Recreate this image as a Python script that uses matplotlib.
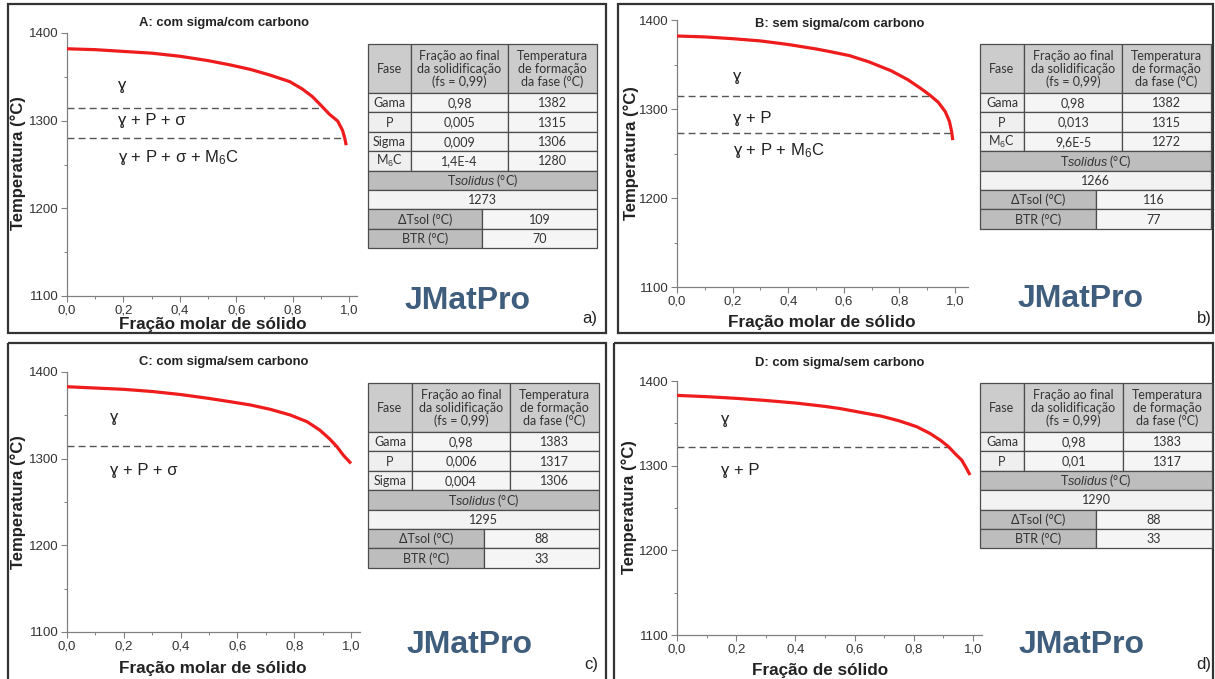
import matplotlib.pyplot as plt
from matplotlib.patches import Rectangle
from matplotlib.ticker import MultipleLocator, FuncFormatter

plt.rcParams['font.family'] = ['Liberation Sans', 'DejaVu Sans']
plt.rcParams['mathtext.fontset'] = 'custom'
plt.rcParams['mathtext.rm'] = 'Liberation Sans'
plt.rcParams['mathtext.it'] = 'Liberation Sans:italic'

# ---- curve data ----
fs_a = [0.0, 0.1, 0.2, 0.3, 0.4, 0.5, 0.58, 0.65, 0.72, 0.79, 0.835, 0.87, 0.905, 0.93, 0.96, 0.977, 0.985, 0.99]
temp_a = [1382, 1381, 1379, 1377, 1373.5, 1368.5, 1363.5, 1358.5, 1352, 1344.5, 1336, 1327.5, 1316, 1307.5, 1299.5, 1289, 1280, 1272]

fs_b = [0.0, 0.1, 0.2, 0.3, 0.4, 0.5, 0.55, 0.62, 0.69, 0.77, 0.83, 0.875, 0.91, 0.94, 0.965, 0.98, 0.988, 0.992]
temp_b = [1382, 1381, 1379, 1376.5, 1372.5, 1367.5, 1364.5, 1360, 1353, 1343, 1333, 1323.5, 1315.5, 1307.5, 1297, 1286, 1274.5, 1265]

fs_c = [0.0, 0.1, 0.2, 0.3, 0.4, 0.5, 0.575, 0.645, 0.715, 0.785, 0.845, 0.89, 0.925, 0.95, 0.973, 1.0]
temp_c = [1383, 1381.5, 1380, 1377.5, 1374, 1369.5, 1365.7, 1362, 1357, 1350.5, 1342.7, 1333, 1322.7, 1314, 1304, 1294.5]

fs_d = [0.0, 0.1, 0.2, 0.3, 0.4, 0.5, 0.55, 0.62, 0.69, 0.75, 0.81, 0.855, 0.89, 0.917, 0.94, 0.962, 0.976, 0.99]
temp_d = [1383, 1381.5, 1379.5, 1377, 1374, 1370, 1367.5, 1363, 1358.5, 1353, 1346, 1338, 1330, 1322.5, 1314, 1306.5, 1298, 1289]

# dashed phase boundaries: (temperature, fs where it meets the curve)
bounds_a = [(1314.5, 0.91), (1280, 0.985)]
bounds_b = [(1314.5, 0.917), (1273.5, 0.985)]
bounds_c = [(1314.5, 0.945)]
bounds_d = [(1322.5, 0.917)]

# phase field labels: (text, fs, temperature)
fields_a = [('ɣ', 0.18, 1340), ('ɣ + P + σ', 0.18, 1300), ('ɣ + P + σ + M$_6$C', 0.18, 1258)]
fields_b = [('ɣ', 0.2, 1336), ('ɣ + P', 0.2, 1289), ('ɣ + P + M$_6$C', 0.2, 1253)]
fields_c = [('ɣ', 0.15, 1347), ('ɣ + P + σ', 0.15, 1286)]
fields_d = [('ɣ', 0.15, 1355), ('ɣ + P', 0.15, 1294)]

titles = ['A: com sigma/com carbono', 'B: sem sigma/com carbono',
          'C: com sigma/sem carbono', 'D: com sigma/sem carbono']
xlabels = ['Fração molar de sólido', 'Fração molar de sólido',
           'Fração molar de sólido', 'Fração de sólido']
ylabel = 'Temperatura (°C)'
letters = ['a)', 'b)', 'c)', 'd)']

# ---- table data ----
table_header = ['Fase', 'Fração ao final\nda solidificação\n(fs = 0,99)', 'Temperatura\nde formação\nda fase (°C)']
phases_a = ['Gama', 'P', 'Sigma', 'M$_6$C']
frac_a = ['0,98', '0,005', '0,009', '1,4E-4']
tform_a = ['1382', '1315', '1306', '1280']
tsol_a, dtsol_a, btr_a = 1273, 109, 70

phases_b = ['Gama', 'P', 'M$_6$C']
frac_b = ['0,98', '0,013', '9,6E-5']
tform_b = ['1382', '1315', '1272']
tsol_b, dtsol_b, btr_b = 1266, 116, 77

phases_c = ['Gama', 'P', 'Sigma']
frac_c = ['0,98', '0,006', '0,004']
tform_c = ['1383', '1317', '1306']
tsol_c, dtsol_c, btr_c = 1295, 88, 33

phases_d = ['Gama', 'P']
frac_d = ['0,98', '0,01']
tform_d = ['1383', '1317']
tsol_d, dtsol_d, btr_d = 1290, 88, 33

W, H = 1215, 679
fig = plt.figure(figsize=(W / 100, H / 100), dpi=100)
bg = fig.add_axes([0, 0, 1, 1], zorder=0)
bg.set_xlim(0, W)
bg.set_ylim(H, 0)
bg.axis('off')

TABLE_FONT = ['Lato', 'DejaVu Sans']


def draw_table(x0, y0, widths, split, phases, fracs, temps, tsol, dtsol, btr):
    head_h, row_h = 49, 19.4
    xs = [x0, x0 + widths[0], x0 + widths[0] + widths[1], x0 + sum(widths)]
    total = sum(widths)
    kw = dict(ha='center', va='center', fontsize=9, color='#333333', family=TABLE_FONT)

    def cell(x, y, w, h, color, text, **extra):
        bg.add_patch(Rectangle((x, y), w, h, facecolor=color, edgecolor='#4d4d4d', lw=0.9))
        bg.text(x + w / 2, y + h / 2 + 0.5, text, **{**kw, **extra})

    for i, txt in enumerate(table_header):
        cell(xs[i], y0, widths[i], head_h, '#cccccc', txt, linespacing=1.1)
    y = y0 + head_h
    for ph, fr, tf in zip(phases, fracs, temps):
        cell(xs[0], y, widths[0], row_h, '#efefef', ph)
        cell(xs[1], y, widths[1], row_h, '#f5f5f5', fr)
        cell(xs[2], y, widths[2], row_h, '#f5f5f5', tf)
        y += row_h
    cell(x0, y, total, row_h, '#bdbdbd', r'T$\mathit{solidus}$ (°C)')
    y += row_h
    cell(x0, y, total, row_h, '#f3f3f3', str(tsol))
    y += row_h
    cell(x0, y, split, row_h, '#bdbdbd', 'ΔTsol (°C)')
    cell(x0 + split, y, total - split, row_h, '#f5f5f5', str(dtsol))
    y += row_h
    cell(x0, y, split, row_h, '#bdbdbd', 'BTR (°C)')
    cell(x0 + split, y, total - split, row_h, '#f5f5f5', str(btr))


def fmt_comma(v, pos):
    return f'{v:.1f}'.replace('.', ',')


def draw_panel(px0, px1, x_end, py_top, py_bot, fs, temp, bounds, fields):
    # px0: pixel of fs=0, px1: pixel of fs=1, py_top: pixel of 1400, py_bot: pixel of 1100
    unit = px1 - px0
    left = px0 / W
    width = unit * x_end / W
    bottom = 1 - py_bot / H
    height = (py_bot - py_top) / H
    ax = fig.add_axes([left, bottom, width, height], zorder=2)
    ax.set_facecolor('none')
    ax.plot(fs, temp, color='#ee1c1c', lw=2.3, solid_capstyle='butt', solid_joinstyle='round',
            zorder=3)
    for t, xe in bounds:
        ax.plot([0, xe], [t, t], color='#555555', lw=1.0, dashes=(5, 3), zorder=2)
    for txt, fx, ty in fields:
        ax.text(fx, ty, txt, fontsize=12, color='#222222', va='center', ha='left')
    ax.set_xlim(0, x_end)
    ax.set_ylim(1100, 1400)
    ax.xaxis.set_major_locator(MultipleLocator(0.2))
    ax.xaxis.set_minor_locator(MultipleLocator(0.1))
    ax.yaxis.set_major_locator(MultipleLocator(100))
    ax.yaxis.set_minor_locator(MultipleLocator(50))
    ax.xaxis.set_major_formatter(FuncFormatter(fmt_comma))
    for s in ['top', 'right']:
        ax.spines[s].set_visible(False)
    for s in ['left', 'bottom']:
        ax.spines[s].set_color('#808080')
        ax.spines[s].set_linewidth(0.9)
    ax.tick_params(which='major', length=4, width=0.8, color='#808080', labelsize=9.5,
                   labelcolor='#333333', pad=2)
    ax.tick_params(which='minor', length=2, width=0.7, color='#808080')
    return ax


panels = [
    dict(px0=67, px1=349, x_end=1.03, py_top=33, py_bot=296, fs=fs_a, temp=temp_a,
         bounds=bounds_a, fields=fields_a),
    dict(px0=677, px1=955, x_end=1.047, py_top=20, py_bot=287, fs=fs_b, temp=temp_b,
         bounds=bounds_b, fields=fields_b),
    dict(px0=67, px1=351, x_end=1.03, py_top=372, py_bot=632, fs=fs_c, temp=temp_c,
         bounds=bounds_c, fields=fields_c),
    dict(px0=677, px1=973, x_end=1.03, py_top=381, py_bot=635, fs=fs_d, temp=temp_d,
         bounds=bounds_d, fields=fields_d),
]
for p in panels:
    draw_panel(**p)

# panel frames
frames = [(8, 4, 598, 329), (618, 4, 595, 329), (8, 343, 598, 340), (614, 343, 599, 340)]
for fx, fy, fw, fh in frames:
    bg.add_patch(Rectangle((fx, fy), fw, fh, facecolor='none', edgecolor='#333333', lw=1.6))

# titles, axis labels, letters
title_pos = [(224, 23), (840, 24), (224, 362), (840, 363)]
xlabel_pos = [(213, 324), (822, 323), (213, 669), (820, 670)]
ylabel_pos = [(18, 163), (631, 153), (18, 502), (629, 507)]
letter_pos = [(590, 318), (1204, 318), (591, 664), (1204, 664)]
for i in range(4):
    bg.text(*title_pos[i], titles[i], fontsize=9.4, fontweight='bold', ha='center', va='center',
            color='#222222')
    bg.text(*xlabel_pos[i], xlabels[i], fontsize=12.3, fontweight='bold', ha='center',
            va='center', color='#222222')
    bg.text(*ylabel_pos[i], ylabel, fontsize=12, fontweight='bold', ha='center', va='center',
            rotation=90, color='#222222')
    bg.text(*letter_pos[i], letters[i], fontsize=12, ha='center', va='center', color='#222222')

# logos
logo_pos = [(468, 301), (1081, 299), (470, 645), (1082, 645)]
for lx, ly in logo_pos:
    bg.text(lx, ly, 'JMatPro', fontsize=23, fontweight='bold', ha='center', va='center',
            color='#3f5d7c', family=['Liberation Sans', 'DejaVu Sans'])

# tables
draw_table(368, 44, [43, 97, 89], 114, phases_a, frac_a, tform_a, tsol_a, dtsol_a, btr_a)
draw_table(980, 44, [44, 98, 89], 116, phases_b, frac_b, tform_b, tsol_b, dtsol_b, btr_b)
draw_table(368, 383, [44, 98, 89], 116, phases_c, frac_c, tform_c, tsol_c, dtsol_c, btr_c)
draw_table(980, 383, [44, 99, 89], 116, phases_d, frac_d, tform_d, tsol_d, dtsol_d, btr_d)

fig.savefig('out.png', dpi=100)
